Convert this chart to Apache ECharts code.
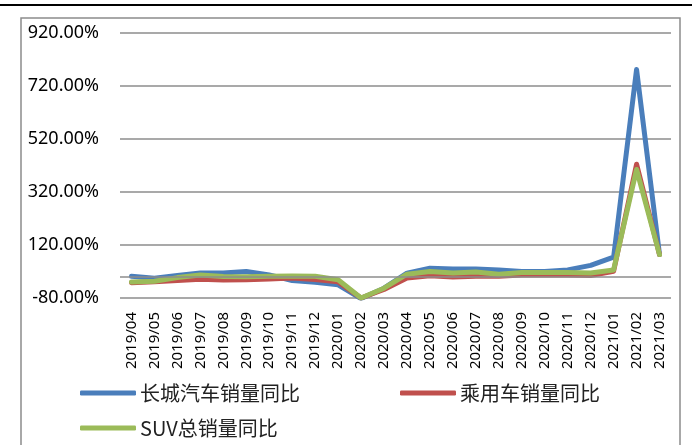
<!DOCTYPE html>
<html>
<head>
<meta charset="utf-8">
<script src="https://cdn.jsdelivr.net/npm/echarts@6/dist/echarts.min.js"></script>
<style>
    html, body { margin: 0; padding: 0; background: #fff; }
    #chart { width: 692px; height: 445px; }
</style>
</head>
<body>
<div id="chart"></div>
<script>
    // 月份
    const months = ['2019/04', '2019/05', '2019/06', '2019/07', '2019/08', '2019/09', '2019/10', '2019/11',
        '2019/12', '2020/01', '2020/02', '2020/03', '2020/04', '2020/05', '2020/06', '2020/07', '2020/08',
        '2020/09', '2020/10', '2020/11', '2020/12', '2021/01', '2021/02', '2021/03'];

    // 同比 (%)
    const greatWall = [2, -5, 5, 14, 14, 20, 7, -14, -21, -30, -82, -43, 14, 32, 29, 29, 26, 20, 20, 26, 43, 74, 782, 84];
    const passenger = [-22, -19, -14, -9, -12, -11, -8, -5, -10, -19, -80, -48, -5, 4, -1, 2, 2, 7, 7, 7, 5, 21, 425, 84];
    const suv = [-20, -17, -3, 7, 1, 0, 2, 3, 2, -11, -80, -43, 10, 20, 14, 18, 10, 16, 16, 16, 14, 26, 405, 84];

    const yTicks = { min: -80, max: 920, interval: 200 };

    const names = ['长城汽车销量同比', '乘用车销量同比', 'SUV总销量同比'];
    const colors = ['#4a7ebb', '#c0504d', '#9bbb59'];

    let myChart = echarts.init(document.getElementById('chart'));

    function legendAt(name, left, top) {
        return {
            data: [name],
            left: left,
            top: top,
            icon: 'roundRect',
            itemWidth: 56,
            itemHeight: 5,
            textStyle: { fontSize: 20, color: '#222', fontFamily: 'Noto Sans CJK SC', padding: [0, 0, 0, -1] }
        };
    }

    let option = {
        animation: false,
        color: colors,
        graphic: [
            { type: 'rect', shape: { x: 0, y: 4, width: 692, height: 2 }, style: { fill: '#000' } },
            { type: 'rect', shape: { x: 21, y: 18, width: 659, height: 440 }, style: { fill: 'none', stroke: '#8c8c8c', lineWidth: 1.5 } }
        ],
        legend: [
            legendAt(names[0], 75, 378),
            legendAt(names[1], 395, 378),
            legendAt(names[2], 75, 413)
        ],
        grid: { left: 120, right: 21, top: 33, bottom: 147 },
        xAxis: {
            type: 'category',
            data: months,
            boundaryGap: true,
            axisLine: { show: false },
            axisTick: { show: false },
            axisLabel: { rotate: 90, fontSize: 15, color: '#000', margin: 14, fontFamily: 'Noto Sans' }
        },
        yAxis: {
            type: 'value',
            min: yTicks.min,
            max: yTicks.max,
            interval: yTicks.interval,
            axisLine: { show: false },
            axisTick: { show: false },
            splitLine: { lineStyle: { color: '#8c8c8c', width: 1.5 } },
            axisLabel: {
                fontSize: 18, color: '#000', fontFamily: 'Noto Sans', margin: 21,
                formatter: v => v.toFixed(2) + '%'
            }
        },
        series: [
            {
                name: names[0], type: 'line', data: greatWall, symbol: 'none',
                lineStyle: { width: 5, cap: 'round', join: 'round' },
                markLine: {
                    silent: true, symbol: 'none', label: { show: false },
                    lineStyle: { color: '#8c8c8c', type: 'solid', width: 1.5 },
                    data: [{ yAxis: 0 }]
                }
            },
            { name: names[1], type: 'line', data: passenger, symbol: 'none', lineStyle: { width: 5, cap: 'round', join: 'round' } },
            { name: names[2], type: 'line', data: suv, symbol: 'none', lineStyle: { width: 5, cap: 'round', join: 'round' } }
        ]
    };

    myChart.setOption(option);
</script>
</body>
</html>
